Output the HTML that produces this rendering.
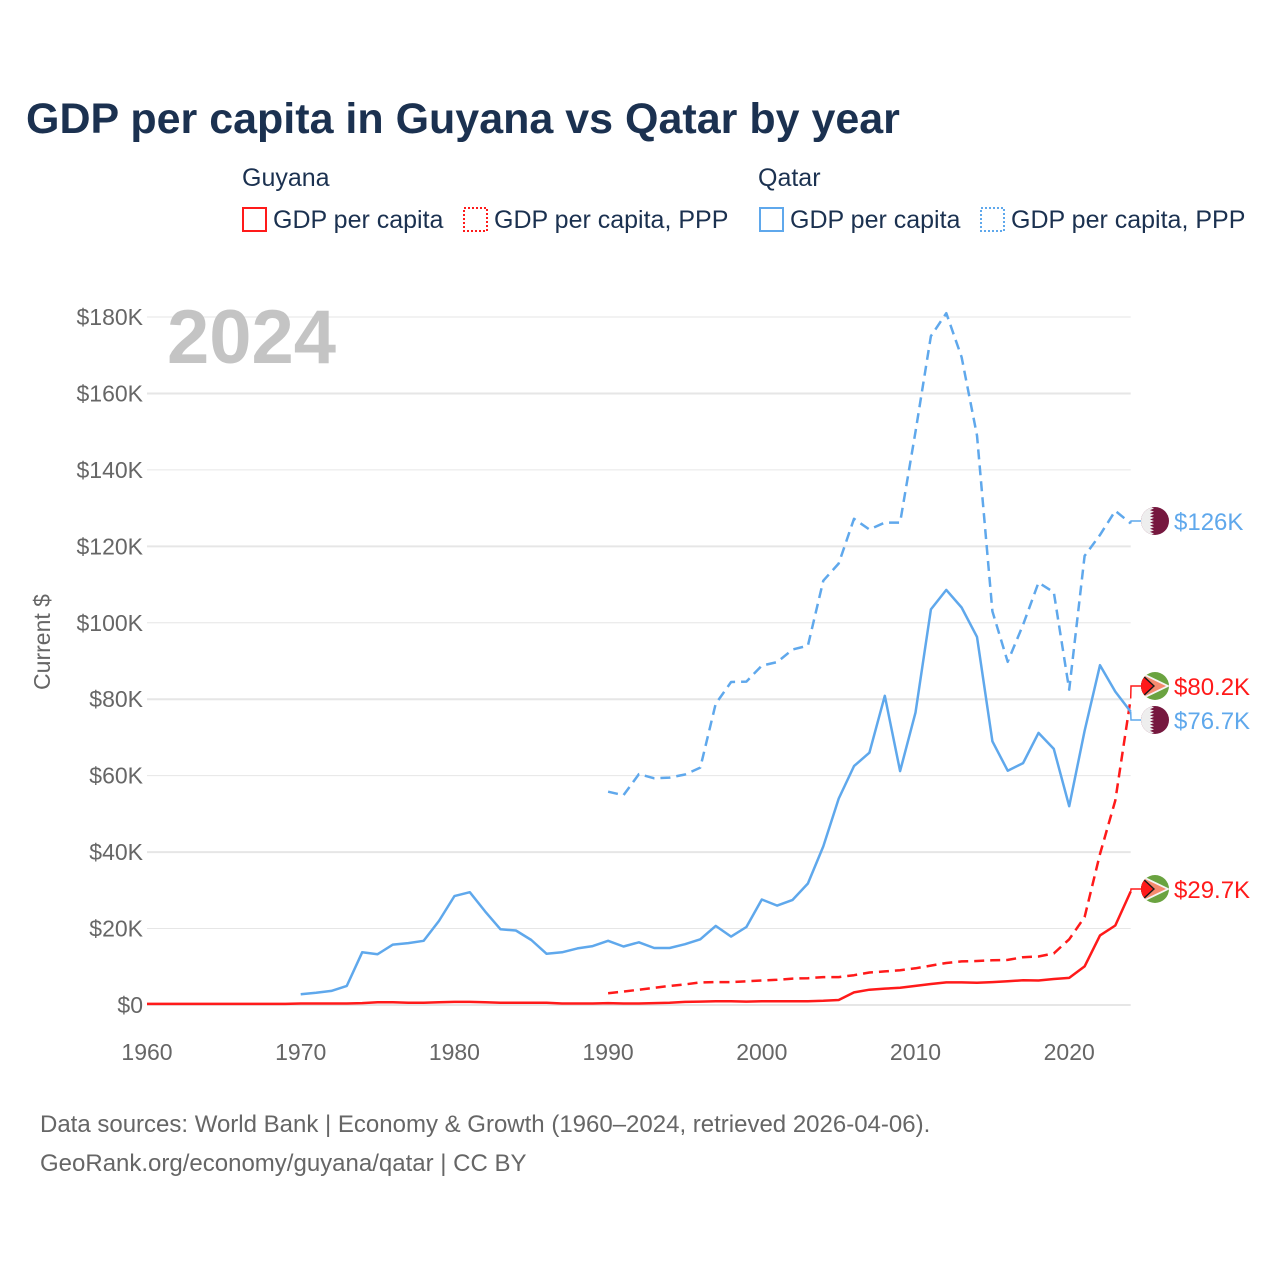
<!DOCTYPE html>
<html><head><meta charset="utf-8">
<style>
body{margin:0;background:#fff;}
svg{display:block;font-family:"Liberation Sans",sans-serif;}
</style></head>
<body>
<svg id="chart" width="1280" height="1280" viewBox="0 0 1280 1280">
<text x="26" y="133" font-size="43" font-weight="bold" fill="#1b3150">GDP per capita in Guyana vs Qatar by year</text>
<g font-size="25" fill="#1b3150">
<text x="242" y="186">Guyana</text>
<g><rect x="243" y="208" width="23" height="23" fill="none" stroke="#ff1a1a" stroke-width="2"/><text x="273" y="228">GDP per capita</text></g>
<g><rect x="464" y="208" width="23" height="23" fill="none" stroke="#ff1a1a" stroke-width="2" stroke-dasharray="2,2"/><text x="494" y="228">GDP per capita, PPP</text></g>
<text x="758" y="186">Qatar</text>
<g><rect x="760" y="208" width="23" height="23" fill="none" stroke="#5fa8ec" stroke-width="2"/><text x="790" y="228">GDP per capita</text></g>
<g><rect x="981" y="208" width="23" height="23" fill="none" stroke="#5fa8ec" stroke-width="2" stroke-dasharray="2,2"/><text x="1011" y="228">GDP per capita, PPP</text></g>
</g>
<g id="grid"></g>
<g id="yticks" font-size="23" fill="#666" text-anchor="end"></g>
<g id="xticks" font-size="23" fill="#666" text-anchor="middle"></g>
<text x="50" y="642" font-size="23" fill="#666" text-anchor="middle" transform="rotate(-90 50 642)">Current $</text>
<text x="167" y="363" font-size="76" font-weight="bold" fill="#c4c4c4">2024</text>
<g id="series"></g>
<g id="ends"></g>
<defs>
<clipPath id="cQ1"><circle cx="1155" cy="521" r="14"/></clipPath>
<clipPath id="cQ2"><circle cx="1155" cy="720" r="14"/></clipPath>
<clipPath id="cG1"><circle cx="1155" cy="686" r="14"/></clipPath>
<clipPath id="cG2"><circle cx="1155" cy="889" r="14"/></clipPath>
</defs>
<text x="40" y="1132" font-size="24" fill="#666">Data sources: World Bank | Economy &amp; Growth (1960–2024, retrieved 2026-04-06).</text>
<text x="40" y="1171" font-size="24" fill="#666">GeoRank.org/economy/guyana/qatar | CC BY</text>
</svg>
<script>
const years=[];for(let y=1960;y<=2024;y++)years.push(y);
const yTicks=[0,20000,40000,60000,80000,100000,120000,140000,160000,180000];
const yTickLabels=["$0","$20K","$40K","$60K","$80K","$100K","$120K","$140K","$160K","$180K"];
const xTicks=[1960,1970,1980,1990,2000,2010,2020];
const guyanaGdpYears=years;
const guyanaGdp=[0.3,0.3,0.3,0.3,0.3,0.3,0.3,0.3,0.3,0.3,0.4,0.4,0.4,0.4,0.5,0.7,0.7,0.6,0.6,0.7,0.8,0.8,0.7,0.6,0.6,0.6,0.6,0.4,0.4,0.4,0.5,0.4,0.4,0.5,0.6,0.8,0.9,1.0,1.0,0.9,1.0,1.0,1.0,1.0,1.1,1.3,3.3,4.0,4.3,4.5,5.0,5.5,5.9,5.9,5.8,6.0,6.2,6.5,6.4,6.8,7.1,10.1,18.2,20.8,29.7];
const guyanaPppYears=years.slice(30);
const guyanaPpp=[3.1,3.5,4.0,4.5,5.0,5.4,5.9,6.0,6.0,6.2,6.4,6.6,6.9,7.0,7.3,7.3,7.8,8.5,8.8,9.1,9.6,10.3,11.0,11.4,11.5,11.7,11.8,12.5,12.7,13.5,17.2,23.0,39.5,53.5,80.2];
const qatarGdpYears=years.slice(10);
const qatarGdp=[2.8,3.2,3.7,5.0,13.8,13.3,15.8,16.2,16.8,22.0,28.5,29.5,24.5,19.8,19.5,17.0,13.4,13.8,14.8,15.4,16.8,15.3,16.4,14.9,14.9,15.9,17.2,20.7,17.9,20.4,27.6,26.0,27.5,31.8,41.5,54.0,62.5,66.0,80.9,61.2,76.5,103.5,108.6,104.0,96.3,69.0,61.3,63.3,71.2,67.0,52.0,71.7,88.9,82.0,76.7];
const qatarPppYears=years.slice(30);
const qatarPpp=[55.8,54.9,60.4,59.3,59.5,60.3,62.1,78.8,84.5,84.6,88.8,89.7,93.0,94.0,111.0,115.5,127.2,124.4,126.2,126.2,150.0,175.0,181.0,169.5,149.0,103.0,89.8,99.5,110.5,108.0,82.5,117.5,123.0,129.3,126.0];

const NS="http://www.w3.org/2000/svg";
const X0=147,X1=1130.7,Y0=1005,Y1=317;
const xs=y=>X0+(y-1960)*(X1-X0)/64;
const ys=v=>Y0-v*(Y0-Y1)/180000;
function mk(tag,attrs,parent){const e=document.createElementNS(NS,tag);for(const k in attrs)e.setAttribute(k,attrs[k]);parent.appendChild(e);return e;}
const grid=document.getElementById('grid'),yt=document.getElementById('yticks'),xt=document.getElementById('xticks');
yTicks.forEach((t,i)=>{
  const l=mk('line',{x1:X0,x2:X1,y1:ys(t),y2:ys(t),stroke:'#e6e6e6','stroke-width':i%2?1:2},grid);
  
  
  const tx=mk('text',{x:143,y:ys(t)+8},yt);tx.textContent=yTickLabels[i];
  
  
});
xTicks.forEach(t=>{
  const tx=mk('text',{x:xs(t),y:1060},xt);tx.textContent=t;
  
  
});
const ser=document.getElementById('series');
function line(yrs,vals,color,dash,name){
  const d=yrs.map((y,i)=>(i?'L':'M')+xs(y).toFixed(1)+','+ys(vals[i]*1000).toFixed(1)).join('');
  const p=mk('path',{d:d,fill:'none',stroke:color,'stroke-width':2.5,'stroke-dasharray':dash,'stroke-linejoin':'round'},ser);
  
  
}
line(guyanaGdpYears,guyanaGdp,'#ff1a1a','','line-guyana-gdp');
line(guyanaPppYears,guyanaPpp,'#ff1a1a','10,6','line-guyana-ppp');
line(qatarGdpYears,qatarGdp,'#5fa8ec','','line-qatar-gdp');
line(qatarPppYears,qatarPpp,'#5fa8ec','10,6','line-qatar-ppp');

const ends=document.getElementById('ends');
function endLabel(val,ly,color,flag,clip,label,name){
  const y=ys(val*1000);
  mk('path',{d:`M1130.7,${y}L1131,${ly}L1141,${ly}`,fill:'none',stroke:color,'stroke-width':1.5},ends);
  const g=mk('g',{'clip-path':`url(#${clip})`},ends);
  
  
  if(flag==='qa'){
    mk('rect',{x:1141,y:ly-14,width:28,height:28,fill:'#76183f'},g);
    mk('rect',{x:1141,y:ly-14,width:9,height:28,fill:'#eeeeee'},g);
    let pts='1150,'+(ly-14);for(let i=0;i<9;i++){const yy=ly-14+i*28/9;pts+=` 1150,${yy} 1154,${yy+28/18}`;}pts+=` 1150,${ly+14}`;
    mk('polygon',{points:pts,fill:'#eeeeee'},g);
  }else{
    mk('rect',{x:1141,y:ly-14,width:28,height:28,fill:'#6aa340'},g);
    mk('polygon',{points:`1141,${ly-14} 1170,${ly} 1141,${ly+14}`,fill:'#f5f5f5'},g);
    mk('polygon',{points:`1141,${ly-12} 1166,${ly} 1141,${ly+12}`,fill:'#f58a6e'},g);
    mk('polygon',{points:`1141,${ly-13} 1155,${ly} 1141,${ly+13}`,fill:'#1a1a1a'},g);
    mk('polygon',{points:`1141,${ly-11} 1153,${ly} 1141,${ly+11}`,fill:'#ff1a1a'},g);
  }
  const t=mk('text',{x:1174,y:ly+9,'font-size':24,fill:color},ends);t.textContent=label;
  
  
}
endLabel(qatarPpp[qatarPpp.length-1],521,'#5fa8ec','qa','cQ1','$126K','qatar-ppp-end');
endLabel(guyanaPpp[guyanaPpp.length-1],686,'#ff1a1a','gy','cG1','$80.2K','guyana-ppp-end');
endLabel(qatarGdp[qatarGdp.length-1],720,'#5fa8ec','qa','cQ2','$76.7K','qatar-gdp-end');
endLabel(guyanaGdp[guyanaGdp.length-1],889,'#ff1a1a','gy','cG2','$29.7K','guyana-gdp-end');
</script>
</body></html>
